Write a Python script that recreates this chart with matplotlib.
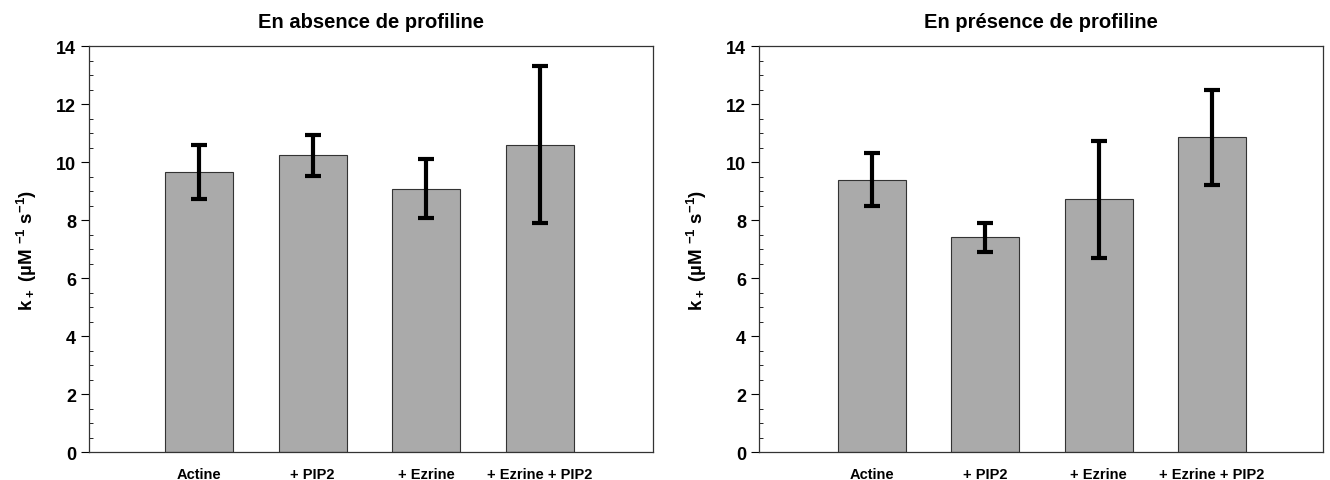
import matplotlib
matplotlib.use("Agg")
import matplotlib.pyplot as plt
from matplotlib.ticker import MultipleLocator

plt.rcParams['font.family'] = ['Liberation Sans', 'DejaVu Sans']
plt.rcParams['mathtext.fontset'] = 'custom'
plt.rcParams['mathtext.rm'] = 'Liberation Sans:bold'
plt.rcParams['mathtext.bf'] = 'Liberation Sans:bold'
plt.rcParams['mathtext.default'] = 'bf'

categories = ["Actine", "+ PIP2", "+ Ezrine", "+ Ezrine + PIP2"]

# sans profiline
vals_sans = [9.67, 10.23, 9.09, 10.6]
err_sans = [0.93, 0.70, 1.02, 2.70]

# avec profiline
vals_avec = [9.39, 7.41, 8.72, 10.85]
err_avec = [0.92, 0.50, 2.01, 1.63]

titles = ["En absence de profiline", "En présence de profiline"]

fig = plt.figure(figsize=(13.3, 4.81), dpi=100)
ax1 = fig.add_axes([0.067, 0.058, 0.424, 0.844])
ax2 = fig.add_axes([0.571, 0.058, 0.424, 0.844])

x = [1, 2, 3, 4]
for ax, vals, err, title, x0 in zip([ax1, ax2], [vals_sans, vals_avec], [err_sans, err_avec],
                                     titles, [0.03, 0.01]):
    ax.bar(x, vals, width=0.6, color="#aaaaaa", edgecolor="#333333", linewidth=0.8, zorder=2)
    ax.errorbar(x, vals, yerr=err, fmt="none", ecolor="black", elinewidth=3,
                capsize=6, capthick=3, zorder=3)
    ax.set_xlim(x0, x0 + 4.97)
    ax.set_ylim(0, 14)
    ax.set_xticks(x)
    ax.set_xticklabels(categories, fontsize=10.5, fontweight="bold")
    ax.tick_params(axis="x", direction="in", length=3, pad=11)
    ax.yaxis.set_major_locator(MultipleLocator(2))
    ax.yaxis.set_minor_locator(MultipleLocator(0.5))
    ax.tick_params(axis="y", which="major", direction="out", length=6, labelsize=13)
    ax.tick_params(axis="y", which="minor", direction="in", length=3)
    for lab in ax.get_yticklabels():
        lab.set_fontweight("bold")
    ax.set_title(title, fontsize=14.5, fontweight="bold", pad=14)
    ax.set_ylabel(r"k$_+$ (µM $^{-1}$ s$^{-1}$)", fontsize=13.5, fontweight="bold", labelpad=12)
    for s in ax.spines.values():
        s.set_linewidth(0.9)
        s.set_color("#333333")

fig.savefig("out.png", dpi=100)
